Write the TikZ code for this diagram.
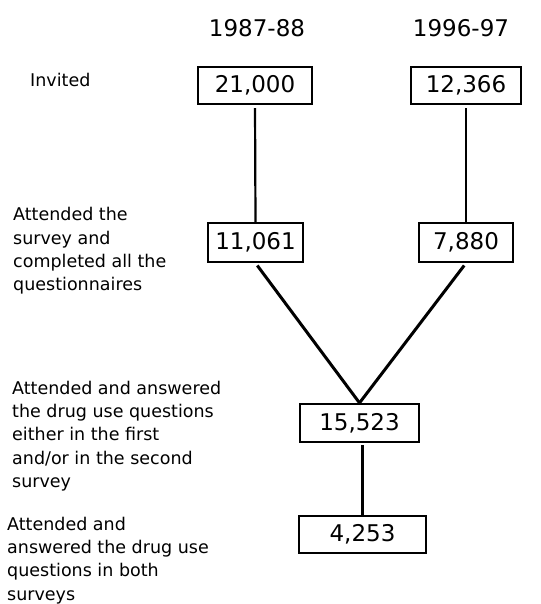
\documentclass[tikz,border=0pt]{standalone}
\usepackage{fontspec}
\setmainfont{DejaVu Sans}
\usepackage{tikz}

\begin{document}
\begin{tikzpicture}[x=1pt,y=-1pt,
            num/.style={draw,line width=2.2pt,inner sep=0pt,minimum height=37pt,font=\fontsize{23}{27}\selectfont},
            lbl/.style={align=left,anchor=north west,inner sep=0pt,font=\fontsize{17.5}{23.2}\selectfont},
            yr/.style={font=\fontsize{23}{27}\selectfont},
            thin line/.style={line width=2.2pt},
            thick line/.style={line width=3pt}]
            \useasboundingbox (0,0) rectangle (540,604);

            \node[yr] (y1) at (257,28) {1987-88};
            \node[yr] (y2) at (461,28) {1996-97};

            \node[num,minimum width=114pt] (a1) at (255,85.5) {21,000};
            \node[num,minimum width=110pt] (a2) at (466,85.5) {12,366};
            \node[num,minimum width=95pt,minimum height=39pt] (b1) at (255.5,242.5) {11,061};
            \node[num,minimum width=94pt,minimum height=39pt] (b2) at (466,242.5) {7,880};
            \node[num,minimum width=119pt,minimum height=38pt] (c) at (359.5,423) {15,523};
            \node[num,minimum width=127pt] (d) at (362.5,534.5) {4,253};

            \draw[thin line,shorten <=3pt] (a1.south) -- (b1.north);
            \draw[thin line,shorten <=3pt] (a2.south) -- (b2.north);
            \draw[thick line,shorten <=3pt] (b1.south) -- (c.north);
            \draw[thick line,shorten <=3pt] (b2.south) -- (c.north);
            \draw[thin line,shorten <=2pt] (d.north |- c.south) -- (d.north);

            \node[lbl] (l1) at (30,73.5) {Invited};
            \node[lbl] (l2) at (13,207.5) {Attended the\\survey and\\completed all the\\questionnaires};
            \node[lbl] (l3) at (12,381) {Attended and answered\\the drug use questions\\either in the first\\and/or in the second\\survey};
            \node[lbl] (l4) at (7,517) {Attended and\\answered the drug use\\questions in both\\surveys};
         \end{tikzpicture}
\end{document}
